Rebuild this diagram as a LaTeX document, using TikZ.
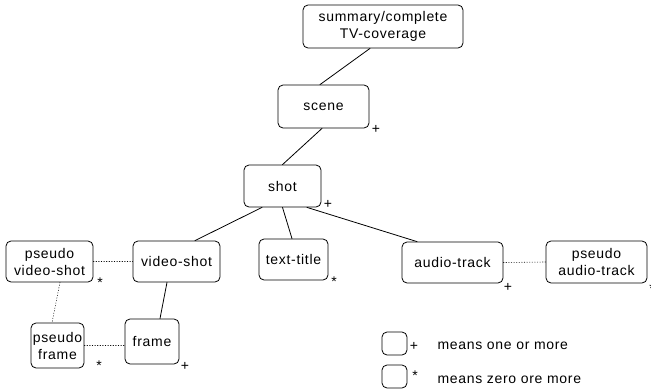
\documentclass[tikz,border=0pt]{standalone}
\usepackage{fontspec}
\setmainfont[LetterSpace=5]{Liberation Sans}
\begin{document}
\begin{tikzpicture}[x=1pt,y=-1pt,line join=round,line cap=round,
	font=\fontsize{14}{17}\selectfont,
	box/.style={draw,rounded corners=5pt,line width=0.8pt,inner sep=0pt,align=center},
	link/.style={line width=0.8pt},
	pseudolink/.style={dotted,line width=0.6pt},
	countmark/.style={inner sep=0pt,font=\fontsize{14}{14}\selectfont}]
	\useasboundingbox (0,0) rectangle (651,391);
	\node[box,minimum width=160pt,minimum height=43pt] (summary) at (383,26.5) {summary/complete\\TV-coverage};
	\node[box,minimum width=91pt,minimum height=43pt] (scene) at (323.5,106.5) {scene};
	\node[box,minimum width=77pt,minimum height=42pt] (shot) at (282.5,186) {shot};
	\node[box,minimum width=87pt,minimum height=41pt] (pvshot) at (49.5,261.5) {pseudo\\video-shot};
	\node[box,minimum width=87pt,minimum height=41pt] (vshot) at (176.5,261.5) {video-shot};
	\node[box,minimum width=69pt,minimum height=41pt] (title) at (293.5,259.5) {text-title};
	\node[box,minimum width=101pt,minimum height=41pt] (audio) at (452.5,262.5) {audio-track};
	\node[box,minimum width=101pt,minimum height=42pt] (paudio) at (596.5,262) {pseudo\\audio-track};
	\node[box,minimum width=53pt,minimum height=45pt] (pframe) at (57.5,345.5) {pseudo\\frame};
	\node[box,minimum width=54pt,minimum height=45pt] (frame) at (152,341.5) {frame};
	\node[box,minimum width=25pt,minimum height=23pt] (oneormore) at (394.5,343.5) {};
	\node[box,minimum width=25pt,minimum height=23pt] (zeroormore) at (394.5,376.5) {};
	\draw[link] ([xshift=-13pt]summary.south) -- ([xshift=-3.5pt]scene.north);
	\draw[link] ([xshift=-1.5pt]scene.south) -- (shot.north);
	\draw[link] ([xshift=-20.5pt]shot.south) -- ([xshift=18.5pt]vshot.north);
	\draw[link] (shot.south) -- ([xshift=-1.5pt]title.north);
	\draw[link] ([xshift=24.5pt]shot.south) -- ([xshift=-35.5pt]audio.north);
	\draw[link] ([xshift=-9.5pt]vshot.south) -- ([xshift=8pt]frame.north);
	\draw[pseudolink] (pvshot.east) -- (vshot.west);
	\draw[pseudolink] (audio.east) -- (paudio.west);
	\draw[pseudolink] ([xshift=10.5pt]pvshot.south) -- ([xshift=-5.5pt]pframe.north);
	\draw[pseudolink] (pframe.east) -- (pframe.east -| frame.west);
	\node[countmark] (scenem) at (376,129) {+};
	\node[countmark] (shotm) at (328,204) {+};
	\node[countmark] (pvshotm) at (100,283) {*};
	\node[countmark] (titlem) at (334,282) {*};
	\node[countmark] (audiom) at (508,287) {+};
	\node[countmark] (paudiom) at (652,289) {*};
	\node[countmark] (pframem) at (99,366) {*};
	\node[countmark] (framem) at (185,366) {+};
	\node[countmark] (onem) at (414,346) {+};
	\node[countmark] (zerom) at (415,376) {*};
	\node[anchor=west] (onetext) at (434,346) {means one or more};
	\node[anchor=west] (zerotext) at (434,380) {means zero ore more};
\end{tikzpicture}
\end{document}
